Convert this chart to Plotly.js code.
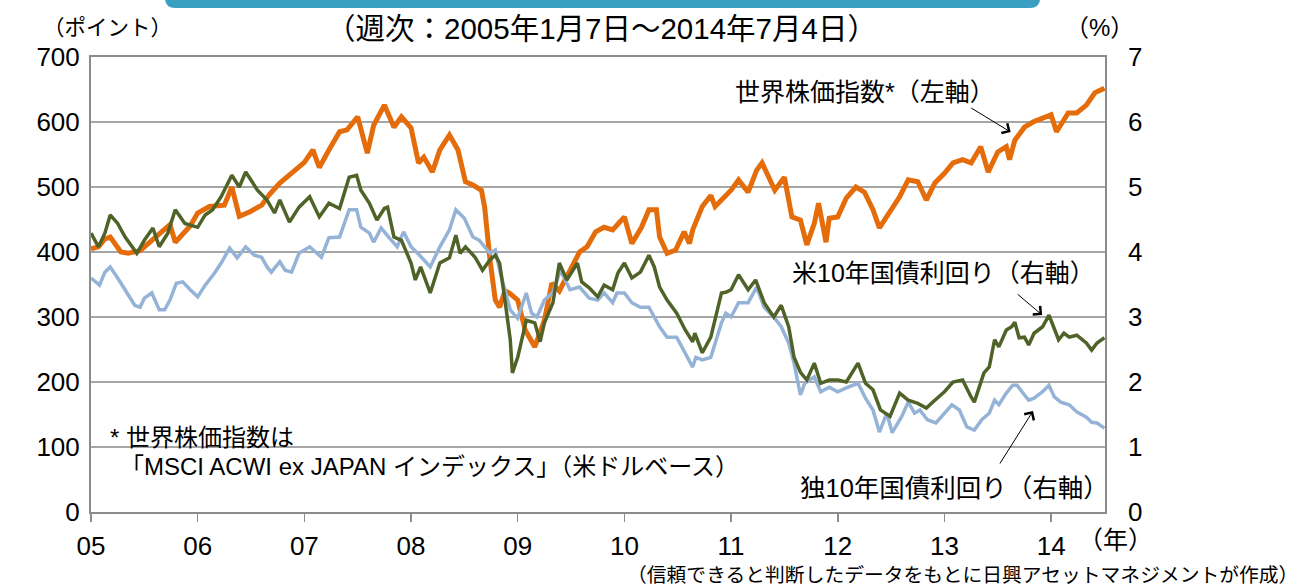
<!DOCTYPE html>
<html><head><meta charset="utf-8">
<script src="https://cdn.plot.ly/plotly-3.0.1.min.js"></script>
<style>html,body{margin:0;padding:0;background:#fff;} #chart{width:1301px;height:587px;}</style>
</head><body><div id="chart"></div>
<script>
// ---- data (time in decimal years, weekly series sampled) ----
const yearTicks = [2005,2006,2007,2008,2009,2010,2011,2012,2013,2014];
const yearLabels = ['05','06','07','08','09','10','11','12','13','14'];

// World stock index (MSCI ACWI ex JAPAN, USD), left axis, points
const t_world = [2005.00,2005.07,2005.13,2005.18,2005.28,2005.35,2005.46,2005.55,2005.67,2005.74,2005.79,2005.93,
2006.00,2006.11,2006.25,2006.32,2006.39,2006.49,2006.60,2006.67,2006.77,2006.86,
2007.00,2007.08,2007.14,2007.23,2007.33,2007.40,2007.50,2007.59,2007.65,2007.75,2007.84,2007.91,
2008.00,2008.07,2008.12,2008.20,2008.27,2008.36,2008.44,2008.51,2008.58,2008.66,2008.69,2008.74,2008.79,2008.83,2008.88,2008.92,
2009.00,2009.07,2009.16,2009.25,2009.32,2009.39,2009.49,2009.58,2009.65,2009.73,2009.81,2009.89,
2010.00,2010.07,2010.16,2010.23,2010.30,2010.33,2010.40,2010.48,2010.56,2010.61,2010.64,2010.73,2010.81,2010.85,2010.91,
2011.00,2011.07,2011.16,2011.24,2011.29,2011.41,2011.50,2011.57,2011.65,2011.71,2011.78,2011.82,2011.89,2011.92,
2012.00,2012.08,2012.17,2012.25,2012.33,2012.39,2012.50,2012.58,2012.66,2012.75,2012.83,2012.91,
2013.00,2013.08,2013.17,2013.25,2013.34,2013.41,2013.50,2013.58,2013.61,2013.66,2013.75,2013.83,2013.92,
2014.00,2014.05,2014.16,2014.24,2014.33,2014.41,2014.50];
const world = [405,408,420,423,400,398,402,415,430,442,415,440,
460,470,472,500,455,462,472,488,506,518,
538,557,530,557,585,588,608,552,595,626,592,608,
591,537,546,523,557,580,557,508,503,495,469,388,326,315,340,337,
326,280,254,295,352,340,372,400,408,431,438,434,
454,413,438,465,465,423,398,403,431,413,434,470,487,470,480,
495,511,492,526,537,495,515,454,449,411,444,475,415,452,
454,483,500,492,465,437,465,485,511,508,480,506,
521,537,542,537,562,523,554,562,542,572,592,600,606,
611,585,614,614,626,645,652];

// US 10-year Treasury yield, right axis, %
const t_us = [2005.00,2005.07,2005.13,2005.18,2005.25,2005.32,2005.43,2005.50,2005.58,2005.64,2005.72,2005.79,2005.88,
2006.00,2006.07,2006.14,2006.22,2006.32,2006.39,2006.45,2006.51,2006.56,2006.65,2006.72,2006.77,2006.81,2006.86,2006.95,
2007.05,2007.14,2007.23,2007.33,2007.42,2007.49,2007.53,2007.61,2007.68,2007.75,2007.78,2007.84,2007.91,
2008.00,2008.04,2008.09,2008.18,2008.27,2008.36,2008.42,2008.46,2008.51,2008.60,2008.67,2008.74,2008.79,2008.83,2008.88,2008.93,2008.95,
2009.00,2009.08,2009.16,2009.21,2009.25,2009.33,2009.39,2009.46,2009.49,2009.56,2009.60,2009.67,2009.75,2009.81,2009.89,2009.94,
2010.00,2010.07,2010.15,2010.23,2010.28,2010.33,2010.40,2010.49,2010.57,2010.64,2010.66,2010.73,2010.81,2010.91,2010.95,
2011.00,2011.07,2011.16,2011.23,2011.31,2011.40,2011.47,2011.54,2011.59,2011.65,2011.71,2011.78,2011.84,2011.92,
2012.00,2012.08,2012.19,2012.26,2012.33,2012.40,2012.49,2012.58,2012.66,2012.75,2012.83,2012.91,
2013.00,2013.08,2013.17,2013.25,2013.28,2013.37,2013.42,2013.47,2013.51,2013.58,2013.63,2013.66,2013.70,2013.75,2013.79,2013.84,2013.92,2013.98,
2014.03,2014.07,2014.12,2014.17,2014.24,2014.33,2014.38,2014.43,2014.50];
const us10y = [4.29,4.08,4.29,4.57,4.44,4.23,3.98,4.18,4.37,4.08,4.29,4.65,4.44,
4.38,4.57,4.65,4.85,5.18,5.00,5.23,5.08,4.95,4.80,4.60,4.80,4.65,4.46,4.69,
4.85,4.54,4.75,4.67,5.15,5.18,4.95,4.75,4.49,4.67,4.69,4.23,4.18,
3.83,3.57,3.77,3.37,3.83,3.91,4.26,3.98,4.08,3.92,3.72,3.88,3.95,3.83,3.26,2.65,2.14,
2.38,2.95,2.91,2.62,2.91,3.22,3.83,3.57,3.65,3.83,3.54,3.45,3.31,3.49,3.42,3.68,
3.83,3.60,3.69,3.95,3.77,3.46,3.26,3.06,2.80,2.62,2.75,2.45,2.69,3.37,3.38,
3.42,3.65,3.42,3.57,3.22,3.00,3.18,2.85,2.38,2.15,2.03,2.29,1.98,2.03,
2.03,2.00,2.29,1.98,1.88,1.57,1.47,1.83,1.72,1.67,1.60,1.72,
1.85,2.00,2.03,1.77,1.69,2.14,2.23,2.65,2.54,2.80,2.85,2.92,2.68,2.69,2.57,2.75,2.85,3.03,
2.80,2.65,2.75,2.69,2.72,2.60,2.49,2.60,2.68];

// German 10-year Bund yield, right axis, %
const t_de = [2005.00,2005.08,2005.13,2005.18,2005.25,2005.34,2005.41,2005.46,2005.50,2005.57,2005.64,2005.69,2005.74,2005.80,2005.86,2005.93,
2006.00,2006.07,2006.16,2006.22,2006.30,2006.37,2006.45,2006.53,2006.60,2006.65,2006.69,2006.77,2006.82,2006.88,2006.95,
2007.05,2007.12,2007.16,2007.23,2007.33,2007.42,2007.49,2007.53,2007.61,2007.65,2007.72,2007.79,2007.87,2007.93,
2008.00,2008.08,2008.18,2008.27,2008.36,2008.42,2008.50,2008.58,2008.64,2008.74,2008.79,2008.83,2008.88,2008.93,
2009.00,2009.08,2009.13,2009.18,2009.25,2009.33,2009.40,2009.49,2009.58,2009.67,2009.75,2009.81,2009.89,2009.93,
2010.00,2010.07,2010.15,2010.23,2010.33,2010.40,2010.49,2010.57,2010.64,2010.67,2010.73,2010.81,2010.91,2010.95,
2011.00,2011.07,2011.16,2011.24,2011.31,2011.40,2011.47,2011.54,2011.59,2011.65,2011.69,2011.78,2011.84,2011.92,
2012.00,2012.08,2012.19,2012.26,2012.33,2012.39,2012.46,2012.51,2012.60,2012.66,2012.72,2012.77,2012.84,2012.92,
2013.00,2013.07,2013.14,2013.21,2013.28,2013.35,2013.42,2013.47,2013.51,2013.58,2013.64,2013.68,2013.75,2013.79,2013.84,2013.92,2013.98,
2014.03,2014.09,2014.17,2014.24,2014.33,2014.38,2014.43,2014.50];
const de10y = [3.60,3.49,3.69,3.77,3.60,3.37,3.18,3.15,3.29,3.37,3.11,3.11,3.26,3.52,3.54,3.42,
3.31,3.49,3.68,3.83,4.06,3.91,4.08,3.95,3.92,3.77,3.69,3.85,3.72,3.69,3.98,
4.08,3.98,3.92,4.22,4.23,4.65,4.65,4.38,4.29,4.15,4.37,4.23,4.08,4.31,
4.08,3.95,3.77,4.08,4.34,4.65,4.52,4.23,4.18,3.98,4.03,3.72,3.42,3.11,
2.98,3.37,3.06,3.00,3.26,3.38,3.72,3.42,3.46,3.29,3.26,3.37,3.22,3.37,
3.37,3.22,3.15,3.15,2.85,2.69,2.69,2.45,2.23,2.38,2.34,2.38,2.91,3.06,
3.00,3.22,3.22,3.46,3.15,3.00,2.85,2.60,2.29,1.80,1.98,2.08,1.85,1.92,
1.85,1.91,1.98,1.75,1.57,1.23,1.52,1.22,1.47,1.69,1.52,1.57,1.42,1.37,
1.52,1.65,1.57,1.31,1.26,1.42,1.52,1.72,1.65,1.83,1.95,1.95,1.80,1.72,1.75,1.85,1.95,
1.77,1.69,1.65,1.54,1.46,1.38,1.37,1.29];

// ---- chart ----
const FONT = 'Liberation Sans, Arial, "Noto Sans CJK JP", sans-serif';
const traces = [
  {x:t_world, y:world, type:'scatter', mode:'lines', name:'世界株価指数', yaxis:'y',
   line:{color:'#E46C0A', width:5}},
  {x:t_de, y:de10y, type:'scatter', mode:'lines', name:'独10年国債利回り', yaxis:'y2',
   line:{color:'#95B3D7', width:3.5}},
  {x:t_us, y:us10y, type:'scatter', mode:'lines', name:'米10年国債利回り', yaxis:'y2',
   line:{color:'#4F6228', width:3.5}}
];

function txt(text, x, y, size, xanchor){
  return {text:text, xref:'paper', yref:'paper', x:x, y:y, showarrow:false,
          xanchor:xanchor||'center', yanchor:'middle', font:{family:FONT, size:size, color:'#000'}};
}
function arrow(x, y, ax, ay){
  return {text:'', xref:'paper', yref:'paper', x:x, y:y, ax:ax, ay:ay, showarrow:true,
          arrowhead:4, arrowsize:2.2, arrowwidth:1, arrowcolor:'#000', standoff:0};
}

const layout = {
  width:1301, height:587,
  margin:{l:91, r:196, t:57, b:75},
  showlegend:false,
  paper_bgcolor:'#ffffff', plot_bgcolor:'#ffffff',
  font:{family:FONT, color:'#000', size:26},
  xaxis:{range:[2005, 2014.505], tickvals:yearTicks, ticktext:yearLabels,
         ticks:'outside', ticklen:8, tickwidth:1.5, tickcolor:'#8c8c8c',
         showgrid:false, zeroline:false, showline:true, linecolor:'#8c8c8c', linewidth:2, mirror:true,
         tickfont:{family:FONT, size:26, color:'#000'}, ticklabelstandoff:2},
  yaxis:{range:[0,700], tick0:0, dtick:100, ticks:'', showgrid:true, gridcolor:'#a6a6a6', gridwidth:1.3,
         zeroline:false, showline:true, linecolor:'#8c8c8c', linewidth:2, mirror:true,
         tickfont:{family:FONT, size:26, color:'#000'}, ticklabelstandoff:4},
  yaxis2:{range:[0,7], tick0:0, dtick:1, overlaying:'y', side:'right', ticks:'', showgrid:false,
          zeroline:false, showline:false, tickfont:{family:FONT, size:26, color:'#000'}, ticklabelstandoff:22},
  shapes:[
    {type:'path', xref:'paper', yref:'paper', layer:'above',
     path:'M 0.073,1.149 L 0.073,1.1297 Q 0.073,1.1077 0.0829,1.1077 L 0.9261,1.1077 Q 0.936,1.1077 0.936,1.1297 L 0.936,1.149 Z',
     fillcolor:'#3a9fc0', line:{width:0}},
    {type:'rect', xref:'paper', yref:'paper', layer:'between', x0:0.009, x1:0.662, y0:0.04, y1:0.19,
     fillcolor:'#ffffff', line:{width:0}}
  ],
  annotations:[
    txt('（週次：2005年1月7日～2014年7月4日）', 0.503, 1.062, 29.5),
    txt('（ポイント）', 0.016, 1.064, 21.5),
    txt('（%）', 0.995, 1.064, 24),
    txt('（年）', 1.010, -0.062, 25),
    txt('（信頼できると判断したデータをもとに日興アセットマネジメントが作成）', 1.192, -0.138, 19.8, 'right'),
    txt('世界株価指数*（左軸）', 0.763, 0.923, 25),
    txt('米10年国債利回り（右軸）', 0.841, 0.525, 25),
    txt('独10年国債利回り（右軸）', 0.852, 0.053, 25.5),
    txt('* 世界株価指数は', 0.017, 0.163, 24, 'left'),
    txt('「MSCI ACWI ex JAPAN インデックス」（米ドルベース）', 0.027, 0.099, 24, 'left'),
    arrow(0.907, 0.835, -41, -25),
    arrow(0.938, 0.433, -26, -22),
    arrow(0.929, 0.222, -34, 54)
  ]
};

Plotly.newPlot('chart', traces, layout, {staticPlot:true, displayModeBar:false});
</script>
</body></html>
